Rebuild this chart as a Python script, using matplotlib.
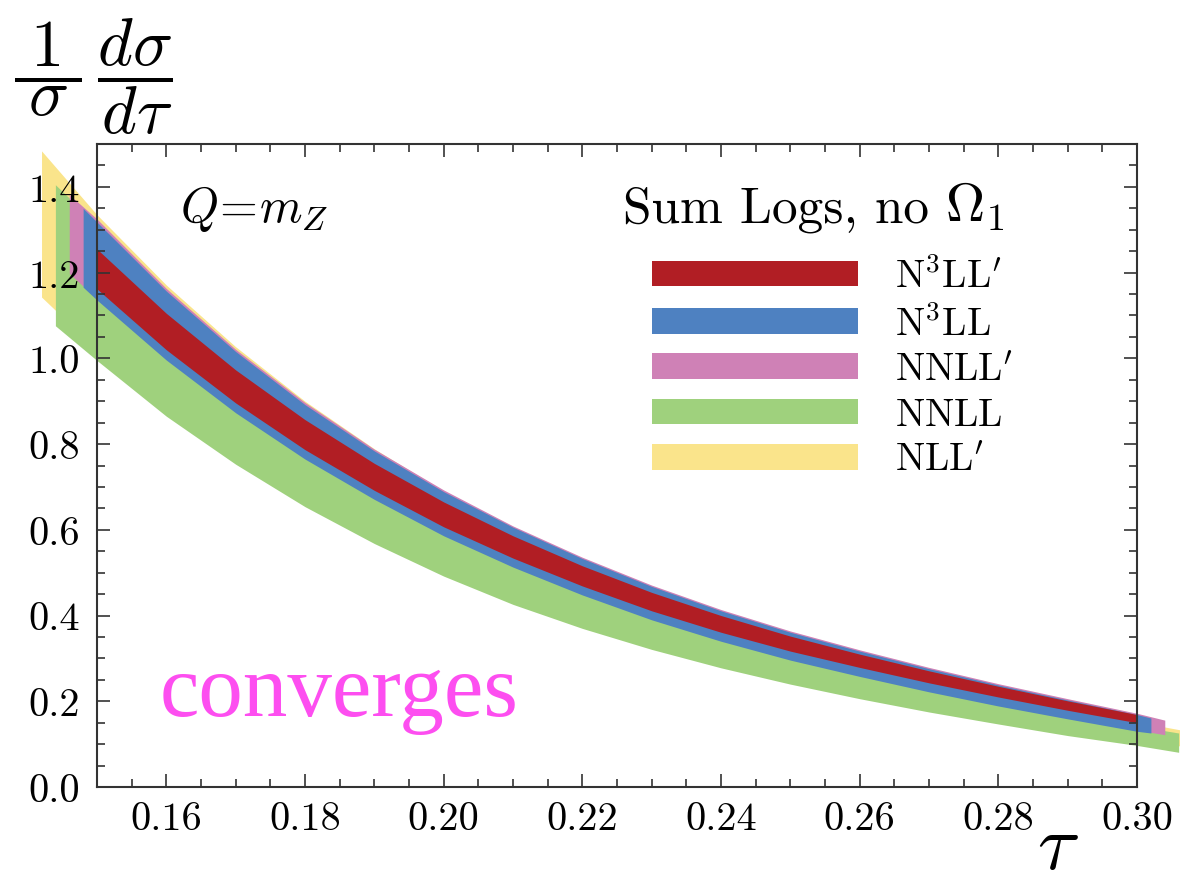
import numpy as np
import matplotlib
matplotlib.use("Agg")
import matplotlib.pyplot as plt
from matplotlib.patches import Patch
from matplotlib.ticker import MultipleLocator, FormatStrFormatter

# fuente tipo LaTeX (cmr10 viene con matplotlib)
plt.rcParams['font.family'] = ['cmr10', 'DejaVu Serif']
plt.rcParams['mathtext.fontset'] = 'cm'
plt.rcParams['axes.formatter.use_mathtext'] = True

# rejilla comun en tau
tau = [0.15, 0.16, 0.17, 0.18, 0.19, 0.20, 0.21, 0.22,
       0.23, 0.24, 0.25, 0.26, 0.27, 0.28, 0.29, 0.30]

# bandas (borde superior / inferior)
n3llp_hi = [1.255, 1.105, 0.973, 0.857, 0.755, 0.665, 0.586, 0.516,
            0.454, 0.400, 0.352, 0.310, 0.271, 0.235, 0.201, 0.169]
n3llp_lo = [1.162, 1.020, 0.896, 0.787, 0.692, 0.607, 0.534, 0.469,
            0.411, 0.361, 0.317, 0.279, 0.243, 0.210, 0.179, 0.150]

n3ll_hi = [1.318, 1.157, 1.016, 0.892, 0.784, 0.689, 0.606, 0.533,
           0.468, 0.411, 0.361, 0.317, 0.276, 0.238, 0.203, 0.169]
n3ll_lo = [1.136, 0.996, 0.873, 0.765, 0.671, 0.586, 0.513, 0.448,
           0.390, 0.340, 0.296, 0.258, 0.222, 0.189, 0.159, 0.130]

nnllp_hi = [1.325, 1.163, 1.021, 0.897, 0.788, 0.693, 0.609, 0.536,
            0.471, 0.414, 0.364, 0.320, 0.279, 0.241, 0.206, 0.172]
nnllp_lo = [1.139, 0.999, 0.876, 0.768, 0.674, 0.589, 0.516, 0.451,
            0.393, 0.343, 0.299, 0.261, 0.225, 0.192, 0.162, 0.133]

nnll_hi = [1.312, 1.148, 1.004, 0.878, 0.768, 0.672, 0.587, 0.512,
           0.446, 0.389, 0.338, 0.293, 0.252, 0.214, 0.178, 0.142]
nnll_lo = [0.995, 0.865, 0.753, 0.654, 0.568, 0.492, 0.426, 0.370,
           0.321, 0.278, 0.240, 0.206, 0.175, 0.147, 0.120, 0.097]

nllp_hi = [1.335, 1.171, 1.027, 0.900, 0.789, 0.690, 0.603, 0.528,
           0.462, 0.404, 0.353, 0.307, 0.265, 0.226, 0.189, 0.152]
nllp_lo = [1.020, 0.888, 0.775, 0.675, 0.588, 0.511, 0.444, 0.387,
           0.337, 0.293, 0.254, 0.219, 0.187, 0.158, 0.131, 0.109]

# extremos de cada banda: (tau, hi, lo) a izquierda y derecha
n3ll_ends = [(0.148, 1.350, 1.166), (0.302, 0.161, 0.126)]
nnllp_ends = [(0.146, 1.382, 1.198), (0.304, 0.156, 0.122)]
nnll_ends = [(0.144, 1.405, 1.076), (0.306, 0.126, 0.081)]
nllp_ends = [(0.142, 1.484, 1.143), (0.308, 0.128, 0.092)]

labels = [r"$\mathrm{N}^3\mathrm{LL}'$", r"$\mathrm{N}^3\mathrm{LL}$",
          r"$\mathrm{NNLL}'$", r"$\mathrm{NNLL}$", r"$\mathrm{NLL}'$"]
colors = ['#b11e24', '#4e81c1', '#cf81b6', '#9fd17d', '#fae48b']


def extiende(hi, lo, ends):
	# añade los puntos de los extremos a la rejilla comun
	if ends is None:
		return np.array(tau), np.array(hi), np.array(lo)
	(t0, h0, l0), (t1, h1, l1) = ends
	t = np.r_[t0, tau, t1]
	return t, np.r_[h0, hi, h1], np.r_[l0, lo, l1]


fig = plt.figure(figsize=(11.8, 8.87), dpi=100)
ax = fig.add_axes([0.0822, 0.1116, 0.8814, 0.7249])

# se dibuja de la menos precisa a la mas precisa
bands = [(nllp_hi, nllp_lo, nllp_ends, 4),
         (nnll_hi, nnll_lo, nnll_ends, 3),
         (nnllp_hi, nnllp_lo, nnllp_ends, 2),
         (n3ll_hi, n3ll_lo, n3ll_ends, 1),
         (n3llp_hi, n3llp_lo, None, 0)]
for hi, lo, ends, k in bands:
	t, h, l = extiende(hi, lo, ends)
	pc = ax.fill_between(t, l, h, color=colors[k], lw=0)
	pc.set_clip_on(False)

ax.set_xlim(0.15, 0.30)
ax.set_ylim(0.0, 1.5)
ax.xaxis.set_major_locator(MultipleLocator(0.02))
ax.xaxis.set_minor_locator(MultipleLocator(0.005))
ax.yaxis.set_major_locator(MultipleLocator(0.2))
ax.yaxis.set_minor_locator(MultipleLocator(0.05))
ax.xaxis.set_major_formatter(FormatStrFormatter('%.2f'))
ax.yaxis.set_major_formatter(FormatStrFormatter('%.1f'))
ax.tick_params(which='both', direction='in', top=True, right=True,
               width=1.2, color='#333333', labelsize=29)
ax.tick_params(which='major', length=9.5)
ax.tick_params(which='minor', length=6)
ax.tick_params(axis='x', pad=10)
ax.tick_params(axis='y', pad=12)
for s in ax.spines.values():
	s.set_linewidth(1.5)
	s.set_color('#333333')

# textos
ax.text(0.08, 0.88, r'$Q\!=\!m_Z$', transform=ax.transAxes, fontsize=35)
ax.text(0.506, 0.880, r'Sum Logs, no', transform=ax.transAxes, fontsize=37)
ax.text(0.815, 0.880, r'$\Omega_1$', transform=ax.transAxes, fontsize=39)
ax.text(0.06, 0.112, 'converges', transform=ax.transAxes, fontsize=64,
        color='#fd4ef0', family='Liberation Serif')

handles = [Patch(color=c, lw=0) for c in colors]
ax.legend(handles, labels, loc='upper left', bbox_to_anchor=(0.534, 0.825),
          frameon=False, fontsize=28, handlelength=5.3, handleheight=0.64,
          handletextpad=0.95, labelspacing=0.24, borderpad=0, borderaxespad=0)

fig.text(14 / 1180, 1 - 16 / 887,
         r'$\dfrac{\;1\;}{\sigma}\,\dfrac{d\sigma}{d\tau}$',
         fontsize=48, ha='left', va='top')
fig.text(1058 / 1180, 18 / 887, r'$\tau$', fontsize=56,
         ha='center', va='baseline')

fig.savefig('out.png', dpi=100)
